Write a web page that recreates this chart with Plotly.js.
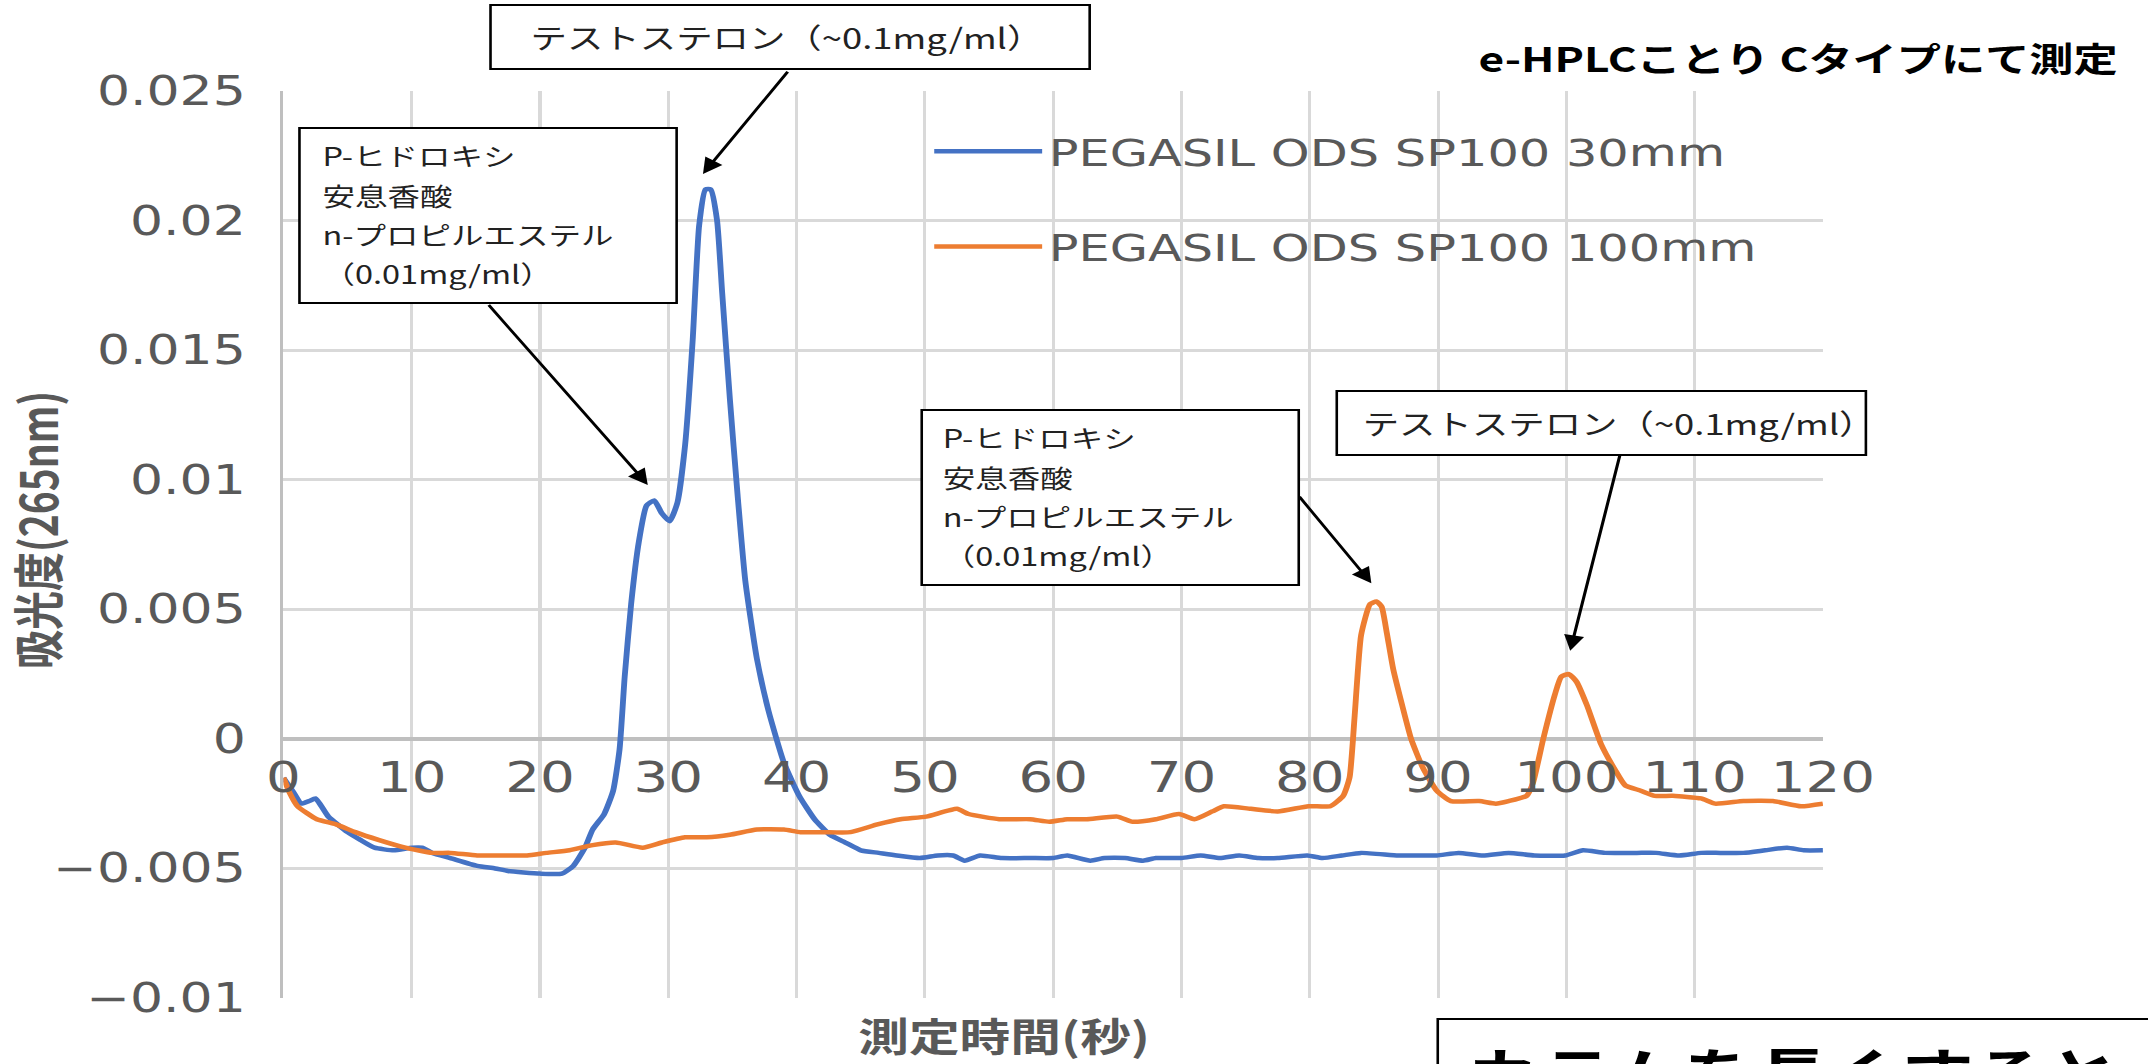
<!DOCTYPE html>
<html>
<head>
<meta charset="utf-8">
<script src="https://cdn.plot.ly/plotly-3.0.1.min.js"></script>
<style>
html, body { margin: 0; padding: 0; background: #ffffff; overflow: hidden; width: 2148px; height: 1064px; }
/* the reference picture is horizontally stretched; reproduce that by stretching the whole chart */
#chart { width: 1652px; height: 1064px; transform: scaleX(1.30024); transform-origin: 0 0; }
</style>
</head>
<body>
<div id="chart"></div>
<script>
// ---- data ----
const seriesNames = ["PEGASIL ODS SP100 30mm", "PEGASIL ODS SP100 100mm"];

const time30 = [0, 0.7, 1.4, 2.0, 2.5, 3.5, 5.0, 6.0, 7.1, 8.6, 10.0, 10.8, 11.6, 13.0, 15.1, 16.5, 17.5, 20.0, 21.7, 22.6,
  23.5, 24.1, 25.0, 25.7, 26.2, 26.6, 27.1, 27.7, 28.3, 28.9, 29.5, 30.1, 30.7, 31.3, 31.9, 32.4, 32.9, 33.3, 33.8, 34.2,
  34.8, 35.4, 36.0, 36.9, 37.8, 39.0, 40.2, 41.4, 42.6, 43.8, 45.0, 46.4, 47.8, 49.6, 51.0, 52.2, 53.1, 54.3, 56.0, 58.2,
  60.0, 61.1, 62.9, 64.0, 65.6, 67.0, 68.0, 70.0, 71.5, 73.0, 74.5, 76.0, 77.5, 79.8, 81.0, 82.5, 84.0, 86.9, 88.5, 89.9,
  91.6, 93.5, 95.5, 97.5, 99.9, 101.3, 103.0, 105.5, 107.0, 108.8, 110.5, 112.0, 113.8, 115.5, 117.2, 118.5, 120];
const abs30 = [-0.0015, -0.0020, -0.0025, -0.0024, -0.0023, -0.0030, -0.0036, -0.0039, -0.0042, -0.0043, -0.0042, -0.0042, -0.0044, -0.0046, -0.0049, -0.0050, -0.0051, -0.0052, -0.0052, -0.0049,
  -0.0042, -0.0035, -0.0029, -0.0020, -0.0004, 0.0024, 0.0052, 0.0076, 0.0090, 0.0092, 0.0087, 0.0084, 0.0091, 0.0113, 0.0154, 0.0198, 0.0212, 0.0212, 0.0200, 0.0172,
  0.0131, 0.0094, 0.0061, 0.0031, 0.0011, -0.0009, -0.0022, -0.0031, -0.0037, -0.0040, -0.0043, -0.0044, -0.0045, -0.0046, -0.0045, -0.0045, -0.0047, -0.0045, -0.0046, -0.0046,
  -0.0046, -0.0045, -0.0047, -0.0046, -0.0046, -0.0047, -0.0046, -0.0046, -0.0045, -0.0046, -0.0045, -0.0046, -0.0046, -0.0045, -0.0046, -0.0045, -0.0044, -0.0045, -0.0045, -0.0045,
  -0.0044, -0.0045, -0.0044, -0.0045, -0.0045, -0.0043, -0.0044, -0.0044, -0.0044, -0.0045, -0.0044, -0.0044, -0.0044, -0.0043, -0.0042, -0.0043, -0.0043];

const time100 = [0, 0.5, 1.1, 2.6, 4.1, 5.6, 7.4, 9.5, 11.6, 13.0, 15.1, 17.5, 19.0, 20.5, 22.3, 24.1, 25.9, 28.0, 29.5, 31.3,
  33.0, 34.8, 36.9, 39.0, 40.3, 42.1, 44.2, 46.3, 48.1, 50.1, 52.5, 53.4, 55.8, 58.2, 59.7, 61.1, 62.6, 65.0, 66.2, 68.0,
  69.8, 71.0, 72.4, 73.3, 75.4, 77.5, 79.9, 81.6, 82.6, 83.1, 83.5, 84.0, 84.7, 85.2, 85.6, 86.0, 86.5, 87.2, 87.9, 88.8,
  89.9, 91.0, 93.2, 94.5, 95.5, 96.9, 97.4, 98.2, 99.1, 99.6, 100.2, 100.8, 101.6, 102.7, 103.8, 104.6, 105.8, 106.9, 108.3, 110.5,
  111.6, 113.8, 116.1, 118.3, 120];
const abs100 = [-0.0015, -0.0021, -0.0026, -0.0031, -0.0033, -0.0036, -0.0039, -0.0042, -0.0044, -0.0044, -0.0045, -0.0045, -0.0045, -0.0044, -0.0043, -0.0041, -0.0040, -0.0042, -0.0040, -0.0038,
  -0.0038, -0.0037, -0.0035, -0.0035, -0.0036, -0.0036, -0.0036, -0.0033, -0.0031, -0.0030, -0.0027, -0.0029, -0.0031, -0.0031, -0.0032, -0.0031, -0.0031, -0.0030, -0.0032, -0.0031,
  -0.0029, -0.0031, -0.0028, -0.0026, -0.0027, -0.0028, -0.0026, -0.0026, -0.0022, -0.0015, 0.0009, 0.0040, 0.0052, 0.0053, 0.0051, 0.0041, 0.0027, 0.0013, 0.0000, -0.0011,
  -0.0020, -0.0024, -0.0024, -0.0025, -0.0024, -0.0022, -0.0017, 0.0000, 0.0017, 0.0024, 0.0025, 0.0022, 0.0013, -0.0002, -0.0012, -0.0018, -0.0020, -0.0022, -0.0022, -0.0023,
  -0.0025, -0.0024, -0.0024, -0.0026, -0.0025];

const xTickVals = [0, 10, 20, 30, 40, 50, 60, 70, 80, 90, 100, 110, 120];
const xTickText = ["0", "10", "20", "30", "40", "50", "60", "70", "80", "90", "100", "110", "120"];
const yTickVals = [-0.01, -0.005, 0, 0.005, 0.01, 0.015, 0.02, 0.025];
const yTickText = ["\u22120.01", "\u22120.005", "0", "0.005", "0.01", "0.015", "0.02", "0.025"];

// callouts: text lines, and arrow tip (at the peak) / tail in data units
const testosteroneLabel = "テストステロン（~0.1mg/ml）";
const parabenLines = ["P-ヒドロキシ", "安息香酸", "n-プロピルエステル", "（0.01mg/ml）"];
const arrowTipX = [32.7, 28.4, 84.8, 100.3];
const arrowTipY = [0.0218, 0.0098, 0.0060, 0.0034];
const arrowTailX = [39.4, 15.9, 79.1, 104.2];
const arrowTailY = [0.0258, 0.0168, 0.0094, 0.0110];

const yTitle = "吸光度(265nm)";
const xTitle = "測定時間(秒)";
const noteTopRight = "e-HPLCことり Cタイプにて測定";
const noteBottom = "カラムを長くすると";

// ---- figure ----
const GRAY = "#595959";
const CJK = "Noto Sans CJK JP";
const traces = [
  { x: time30, y: abs30, name: seriesNames[0], type: "scatter", mode: "lines",
    line: { color: "#4472C4", width: 4.5, shape: "spline", smoothing: 0.5 }, legendgroup: "a" },
  { x: time100, y: abs100, name: seriesNames[1], type: "scatter", mode: "lines",
    line: { color: "#ED7D31", width: 4.5, shape: "spline", smoothing: 0.5 }, legendgroup: "b" }
];

const boxLine = { color: "#000000", width: 2 };
const shapes = [
  // legend background (hides the grid behind the legend like the reference)
  { type: "rect", xref: "paper", yref: "paper", x0: 0.3925, x1: 0.9766, y0: 0.7773, y1: 0.9824,
    fillcolor: "#ffffff", line: { width: 0 }, layer: "between" },
  // callout boxes
  { type: "rect", xref: "paper", yref: "paper", x0: 0.1345, x1: 0.5237, y0: 1.0243, y1: 1.0948, fillcolor: "#ffffff", line: boxLine, layer: "above" },
  { type: "rect", xref: "paper", yref: "paper", x0: 0.0104, x1: 0.2554, y0: 0.7663, y1: 0.9592, fillcolor: "#ffffff", line: boxLine, layer: "above" },
  { type: "rect", xref: "paper", yref: "paper", x0: 0.4146, x1: 0.6595, y0: 0.4553, y1: 0.6483, fillcolor: "#ffffff", line: boxLine, layer: "above" },
  { type: "rect", xref: "paper", yref: "paper", x0: 0.6842, x1: 1.0279, y0: 0.5987, y1: 0.6692, fillcolor: "#ffffff", line: boxLine, layer: "above" },
  // bottom note box (runs off the picture)
  { type: "rect", xref: "paper", yref: "paper", x0: 0.7498, x1: 1.35, y0: -0.25, y1: -0.0232, fillcolor: "#ffffff", line: boxLine, layer: "above" }
];

const ann = [];
const calloutFont = { family: CJK, size: 28, color: "#222222" };
const parabenFont = { family: CJK, size: 25, color: "#222222" };
ann.push({ xref: "paper", yref: "paper", x: 0.1592, y: 1.0596, xanchor: "left", yanchor: "middle",
  text: testosteroneLabel, showarrow: false, font: calloutFont });
ann.push({ xref: "paper", yref: "paper", x: 0.6992, y: 0.6340, xanchor: "left", yanchor: "middle",
  text: testosteroneLabel, showarrow: false, font: calloutFont });
const parabenY1 = [0.9295, 0.8854, 0.8424, 0.7994];
const parabenY2 = [0.6185, 0.5744, 0.5314, 0.4884];
for (let i = 0; i < parabenLines.length; i++) {
  ann.push({ xref: "paper", yref: "paper", x: 0.0234, y: parabenY1[i], xanchor: "left", yanchor: "middle",
    text: parabenLines[i], showarrow: false, font: parabenFont });
  ann.push({ xref: "paper", yref: "paper", x: 0.4269, y: parabenY2[i], xanchor: "left", yanchor: "middle",
    text: parabenLines[i], showarrow: false, font: parabenFont });
}
for (let i = 0; i < arrowTipX.length; i++) {
  ann.push({ xref: "x", yref: "y", axref: "x", ayref: "y", x: arrowTipX[i], y: arrowTipY[i],
    ax: arrowTailX[i], ay: arrowTailY[i], text: "", showarrow: true,
    arrowhead: 2, arrowsize: 1.3, arrowwidth: 2.4, arrowcolor: "#000000", standoff: 0, startstandoff: 0 });
}
ann.push({ xref: "paper", yref: "paper", x: -0.1605, y: 0.516, text: yTitle, textangle: -90, showarrow: false,
  xanchor: "center", yanchor: "middle", font: { family: CJK, size: 39, color: GRAY, weight: "bold" } });
ann.push({ xref: "paper", yref: "paper", x: 0.468, y: -0.0395, text: xTitle, showarrow: false,
  xanchor: "center", yanchor: "middle", font: { family: CJK, size: 39, color: GRAY, weight: "bold" } });
ann.push({ xref: "paper", yref: "paper", x: 1.1936, y: 1.0364, text: noteTopRight, showarrow: false,
  xanchor: "right", yanchor: "middle", font: { family: CJK, size: 34, color: "#000000", weight: "bold" } });
ann.push({ xref: "paper", yref: "paper", x: 0.7667, y: -0.0331, text: noteBottom, showarrow: false,
  xanchor: "left", yanchor: "top", font: { family: CJK, size: 56, color: "#000000", weight: "bold" } });

const layout = {
  width: 1652, height: 1064,
  margin: { l: 218.4, r: 250, t: 91, b: 66 },
  paper_bgcolor: "#ffffff", plot_bgcolor: "#ffffff",
  showlegend: true,
  legend: { x: 0.4185, y: 0.968, xanchor: "left", yanchor: "top", bgcolor: "rgba(255,255,255,0)",
    font: { family: "DejaVu Sans", size: 38, color: GRAY }, itemwidth: 83, tracegroupgap: 43,
    traceorder: "grouped", borderwidth: 0 },
  xaxis: { range: [0, 120], tickvals: xTickVals, ticktext: xTickText, anchor: "free", position: 0.2857,
    showgrid: true, gridcolor: "#d9d9d9", gridwidth: 2.4, zeroline: false, showline: false, ticks: "",
    ticklabelstandoff: 10,
    tickfont: { family: "DejaVu Sans", size: 42, color: GRAY } },
  yaxis: { range: [-0.01, 0.025], tickvals: yTickVals, ticktext: yTickText,
    showgrid: true, gridcolor: "#d9d9d9", gridwidth: 3, zeroline: true, zerolinecolor: "#bfbfbf", zerolinewidth: 4,
    showline: true, linecolor: "#bfbfbf", linewidth: 3, ticks: "", ticklabelstandoff: 18,
    tickfont: { family: "DejaVu Sans", size: 40, color: GRAY } },
  shapes: shapes,
  annotations: ann
};

Plotly.newPlot("chart", traces, layout, { staticPlot: true, displayModeBar: false });
</script>
</body>
</html>
